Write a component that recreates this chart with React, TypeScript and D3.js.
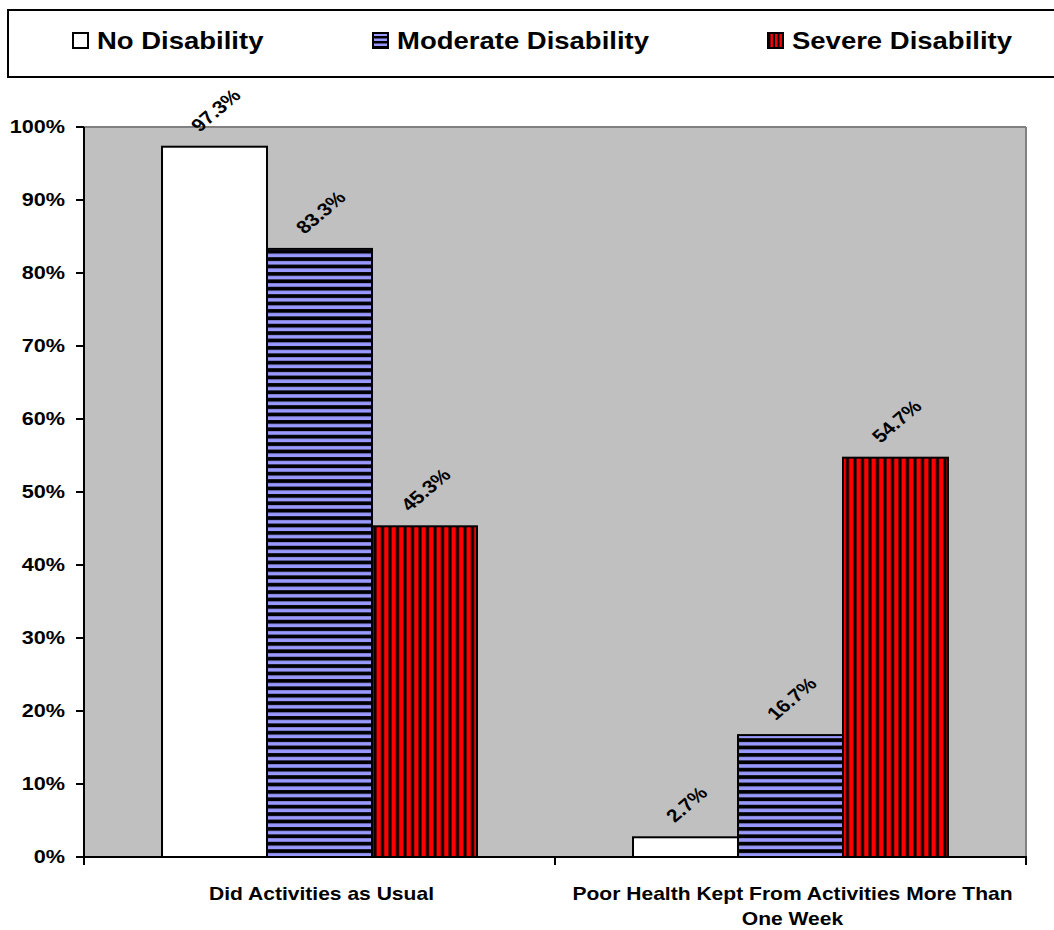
import React from "react";
import * as d3 from "d3";

const categories = ["Did Activities as Usual", "Poor Health Kept From Activities More Than One Week"];
const categoryLines = [["Did Activities as Usual"], ["Poor Health Kept From Activities More Than", "One Week"]];
const seriesNames = ["No Disability", "Moderate Disability", "Severe Disability"];
const noDisability = [97.3, 2.7];
const moderateDisability = [83.3, 16.7];
const severeDisability = [45.3, 54.7];
const yTicks = [0, 10, 20, 30, 40, 50, 60, 70, 80, 90, 100];

const seriesValues = [noDisability, moderateDisability, severeDisability];
const fills = ["#FFFFFF", "url(#blueStripes)", "url(#redStripes)"];
const legendFills = ["#FFFFFF", "url(#blueStripesSmall)", "url(#redStripesSmall)"];

const W = 1054;
const H = 930;
const SX = 1.17;
const FONT = "'Liberation Sans', Arial, Helvetica, sans-serif";

// approximate bold glyph advance widths (em) for label box estimation
const glyphW = (ch: string) => (ch === "." ? 0.278 : ch === "%" ? 0.889 : 0.556);

export default function App() {
  const left = 84, right = 1026, top = 127, bottom = 857;
  const x0 = d3.scaleBand<string>().domain(categories).range([left, right]).paddingInner(0).paddingOuter(0);
  const x1 = d3.scaleBand<string>().domain(seriesNames).range([0, x0.bandwidth()]).paddingInner(0).paddingOuter(0.743);
  const y = d3.scaleLinear().domain([0, 100]).range([bottom, top]);
  const fmt = (v: number) => `${v.toFixed(1)}%`;
  const labelSize = 18;

  const legendX = [73, 373, 768];

  return (
    <svg width={W} height={H} style={{ position: "absolute", left: 0, top: 0, background: "#fff" }} fontFamily={FONT} fontWeight="bold">
      <defs>
        <pattern id="blueStripes" patternUnits="userSpaceOnUse" width="8" height="7.4">
          <rect width="8" height="7.4" fill="#000" />
          <rect y="2" width="8" height="3.6" fill="#9999FF" />
        </pattern>
        <pattern id="redStripes" patternUnits="userSpaceOnUse" width="7.5" height="8">
          <rect width="7.5" height="8" fill="#000" />
          <rect x="1.5" width="4.5" height="8" fill="#FF0000" />
        </pattern>
        <pattern id="blueStripesSmall" patternUnits="userSpaceOnUse" width="4" height="5" y="32">
          <rect width="4" height="5" fill="#000" />
          <rect y="1.5" width="4" height="2.5" fill="#9999FF" />
        </pattern>
        <pattern id="redStripesSmall" patternUnits="userSpaceOnUse" width="4.5" height="4">
          <rect width="4.5" height="4" fill="#000" />
          <rect x="1" width="2.5" height="4" fill="#FF0000" />
        </pattern>
      </defs>

      {/* legend */}
      <rect x={8} y={10} width={1060} height={67} fill="#fff" stroke="#000" strokeWidth={2} />
      {seriesNames.map((s, i) => (
        <g key={s}>
          <rect x={legendX[i]} y={33} width={15} height={15} fill={legendFills[i]} stroke="#000" strokeWidth={2} />
          <text transform={`translate(${legendX[i] + 24},49) scale(${SX},1)`} fontSize={23.5} fill="#000">
            {s}
          </text>
        </g>
      ))}

      {/* plot area */}
      <rect x={left} y={top} width={right - left} height={bottom - top} fill="#C0C0C0" />
      <line x1={left} x2={right} y1={top} y2={top} stroke="#808080" strokeWidth={2} />
      <line x1={right} x2={right} y1={top} y2={bottom} stroke="#808080" strokeWidth={2} />

      {/* bars */}
      {categories.map((c, ci) => (
        <g key={c}>
          {seriesNames.map((s, si) => {
            const v = seriesValues[si][ci];
            const bx = (x0(c) as number) + (x1(s) as number);
            const bw = x1.bandwidth();
            return (
              <rect key={s} x={bx} y={y(v)} width={bw} height={y(0) - y(v)} fill={fills[si]} stroke="#000" strokeWidth={2} />
            );
          })}
        </g>
      ))}

      {/* value labels */}
      {categories.map((c, ci) => (
        <g key={c}>
          {seriesNames.map((s, si) => {
            const v = seriesValues[si][ci];
            const label = fmt(v);
            const len = label.split("").reduce((a, ch) => a + glyphW(ch), 0) * labelSize;
            const halfH = ((len + 0.72 * labelSize) * Math.SQRT1_2) / 2;
            const cx = (x0(c) as number) + (x1(s) as number) + x1.bandwidth() / 2 + 1;
            const cy = y(v) - 14 - halfH;
            return (
              <text key={s} transform={`translate(${cx},${cy}) scale(${SX},1) rotate(-45)`} textAnchor="middle" dominantBaseline="central" fontSize={labelSize} fill="#000">
                {label}
              </text>
            );
          })}
        </g>
      ))}

      {/* y axis */}
      <line x1={left} x2={left} y1={top} y2={bottom} stroke="#000" strokeWidth={2} />
      {yTicks.map((t) => (
        <g key={t}>
          <line x1={left - 8} x2={left} y1={y(t)} y2={y(t)} stroke="#000" strokeWidth={2} />
          <text transform={`translate(${left - 19},${y(t)}) scale(${SX},1)`} textAnchor="end" dominantBaseline="central" fontSize={18.5} fill="#000">
            {`${t}%`}
          </text>
        </g>
      ))}

      {/* x axis */}
      <line x1={left} x2={right + 1} y1={bottom} y2={bottom} stroke="#000" strokeWidth={2} />
      {[left, left + x0.bandwidth(), right].map((xx, i) => (
        <line key={i} x1={xx} x2={xx} y1={bottom} y2={bottom + 8} stroke="#000" strokeWidth={2} />
      ))}
      {categories.map((c, ci) => (
        <g key={c}>
          {categoryLines[ci].map((ln, li) => (
            <text key={li} transform={`translate(${(x0(c) as number) + x0.bandwidth() / 2 + 2},${900 + li * 25}) scale(${SX},1)`} textAnchor="middle" fontSize={18} fill="#000">
              {ln}
            </text>
          ))}
        </g>
      ))}
    </svg>
  );
}
